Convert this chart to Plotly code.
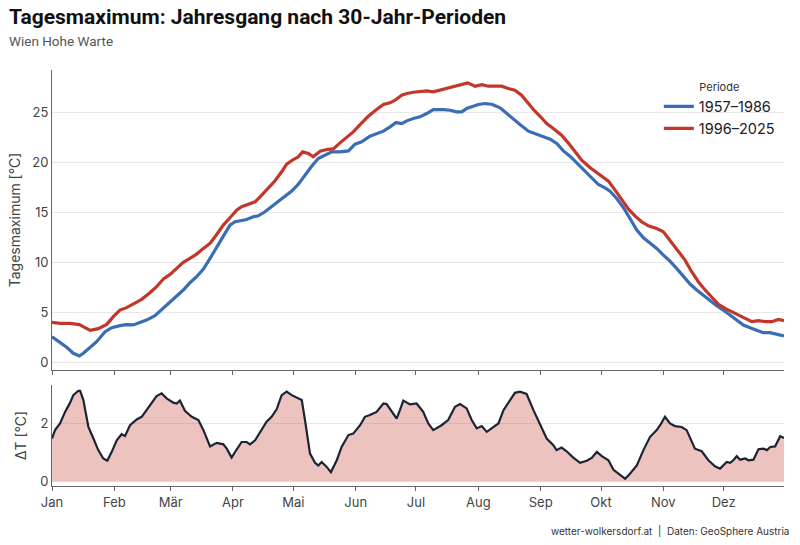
import plotly.graph_objects as go

# ---- data (day of year index, 0 = 1 Jan) ----
blue_day = [0, 4, 7.3, 10.6, 13.6, 15.6, 19, 22.2, 26.4, 29.7, 33.8, 36.8, 40.4, 43.8, 47, 51.2, 55.4, 58.7,
            62, 65.3, 68.6, 71.9, 75.3, 78.6, 81.9, 85.2, 88.5, 91, 94.3, 96.8, 100.1, 102.6, 105.9, 109.2,
            112.5, 115.9, 119.2, 122.5, 125.8, 129.1, 132.4, 135.8, 139.1, 143.2, 147.4, 150.7, 154, 158.1,
            161.4, 164.8, 168.1, 171.1, 173.9, 176.4, 179.7, 183, 186.3, 189.6, 194.6, 198, 201.2, 203.7,
            206.2, 208.7, 212, 215.3, 218.7, 222.8, 226.1, 229.4, 232.7, 236.9, 240.2, 244.3, 247.7, 251,
            254.3, 257.6, 260.9, 264.2, 267.5, 271.7, 275, 277.5, 280.8, 284.1, 287.4, 290.8, 294.1, 297.4,
            300.7, 304, 307.3, 310.6, 314, 317.3, 320.6, 323.9, 327.2, 330.5, 333.8, 337.1, 340.5, 343.8,
            347.1, 350.4, 353.7, 357, 360.4, 364]
blue_val = [2.56, 1.96, 1.50, 0.90, 0.63, 0.90, 1.50, 2.06, 3.06, 3.46, 3.66, 3.76, 3.73, 3.96, 4.22, 4.66, 5.39, 5.95,
            6.62, 7.22, 7.95, 8.55, 9.31, 10.38, 11.44, 12.61, 13.71, 14.04, 14.17, 14.27, 14.54, 14.64, 15.04, 15.54,
            16.13, 16.60, 17.10, 17.80, 18.70, 19.59, 20.36, 20.69, 21.02, 21.02, 21.12, 21.79, 22.02, 22.59,
            22.85, 23.09, 23.52, 23.95, 23.85, 24.12, 24.35, 24.52, 24.85, 25.25, 25.25, 25.18, 25.02, 25.02,
            25.35, 25.52, 25.75, 25.85, 25.78, 25.42, 24.85, 24.25, 23.75, 23.09, 22.85, 22.59, 22.29, 21.86,
            21.12, 20.59, 19.93, 19.19, 18.53, 17.76, 17.43, 17.10, 16.37, 15.47, 14.37, 13.21, 12.44, 11.88,
            11.38, 10.71, 10.11, 9.38, 8.55, 7.82, 7.22, 6.69, 6.22, 5.66, 5.22, 4.72, 4.16, 3.73,
            3.46, 3.23, 2.96, 2.96, 2.83, 2.63]

red_day = [0, 4, 9, 13.6, 16.4, 19, 23, 27.2, 30.5, 33.8, 37.1, 41.3, 44.6, 48.7, 52, 55.4, 58.7, 62, 65.3,
           68.6, 71.9, 75.3, 78.6, 81.9, 85.2, 88.5, 91.8, 94.3, 97.6, 101, 104.3, 107.6, 110.9, 114.2, 116.7,
           120, 122.5, 124.6, 127.5, 129.9, 133.3, 136.6, 139.9, 143.2, 146.5, 149.8, 153.2, 157.3, 161.4,
           164.8, 168.1, 170.6, 173.9, 176.4, 179.7, 183, 186.3, 189.6, 193, 196.3, 200.4, 203.7, 206.7,
           210.4, 213.7, 217, 220.3, 223.6, 226.9, 230.2, 233.5, 236.9, 239.4, 242.7, 246, 249.3, 253.4,
           256.7, 260, 263.4, 267.5, 272.5, 276.7, 280, 283.3, 286.7, 290, 293.2, 296.5, 300.7, 304, 307.3,
           310.6, 314.8, 318.1, 321.4, 324.8, 328.1, 331.4, 334.7, 338, 341.3, 344.7, 348, 351.3, 354.6,
           357.9, 361.3, 364]
red_val = [3.99, 3.89, 3.89, 3.76, 3.46, 3.19, 3.36, 3.79, 4.56, 5.22, 5.46, 5.89, 6.29, 6.95, 7.55, 8.32, 8.78, 9.38, 9.98,
           10.38, 10.81, 11.38, 11.88, 12.77, 13.71, 14.44, 15.20, 15.54, 15.77, 16.03, 16.70, 17.37, 18.13, 19.03, 19.79,
           20.26, 20.53, 21.02, 20.86, 20.53, 21.09, 21.26, 21.32, 21.92, 22.46, 23.02, 23.75, 24.58, 25.25,
           25.75, 25.92, 26.18, 26.68, 26.85, 26.98, 27.05, 27.11, 27.01, 27.18, 27.35, 27.61, 27.74, 27.91,
           27.58, 27.74, 27.58, 27.58, 27.58, 27.35, 27.18, 26.68, 25.85, 25.25, 24.58, 23.85, 23.35, 22.69,
           21.92, 21.02, 20.19, 19.46, 18.70, 18.10, 17.20, 16.20, 15.30, 14.60, 14.04, 13.64, 13.37, 13.04, 12.21,
           11.28, 10.21, 9.05, 8.05, 7.22, 6.49, 5.79, 5.39, 5.06, 4.66, 4.32, 4.06, 4.16, 4.06,
           4.06, 4.29, 4.16]

delta_day = [0, 1.5, 4, 6.5, 9, 10.6, 13.1, 14, 15.6, 18.1, 20.6, 23, 25.5, 27.5, 29.7, 32.2, 34.6, 36.3, 38.8,
             42.1, 44.6, 47.1, 49.6, 52, 54.5, 57, 60.3, 62, 63.6, 66.1, 69.5, 72.8, 75.3, 78.6, 81.9, 85.2,
             86.9, 89.3, 91.8, 94.3, 96.8, 98.5, 101, 103.4, 106.7, 109.2, 111.7, 114.2, 116.7, 119.2, 121.7,
             124.2, 125.8, 128.3, 130.8, 132.4, 134.1, 136.6, 138.7, 141.6, 144, 147.4, 149.8, 153.2, 155.6,
             158.1, 161.4, 164.8, 166.4, 168.9, 171.4, 173, 174.7, 178, 181.3, 184.6, 187.1, 189.6, 193.7,
             197, 200.4, 202.9, 206.2, 208.7, 211.2, 213.7, 216.2, 219.6, 222, 224.5, 227, 230.2, 232.7, 236,
             239.4, 242.7, 246, 249.3, 250.9, 253.4, 255.9, 259.2, 262.6, 265.9, 268.4, 270.9, 273.4, 276.7,
             279.2, 281.7, 285, 287.5, 290.8, 294.1, 297.4, 300.7, 302.4, 304.8, 307.3, 309.8, 313.1, 315.6,
             319.7, 323.1, 326.4, 329.7, 332.2, 335.5, 337.2, 338.8, 340.5, 342.2, 344.7, 346.3, 348.8, 351.3,
             353.8, 355.5, 357.2, 359.6, 362.1, 364]
delta_val = [1.48, 1.77, 2.00, 2.40, 2.72, 2.98, 3.13, 3.13, 2.81, 1.88, 1.48, 1.08, 0.79, 0.71, 1.02, 1.42, 1.63, 1.57, 1.94,
             2.14, 2.23, 2.46, 2.69, 2.95, 3.04, 2.87, 2.72, 2.69, 2.79, 2.44, 2.23, 2.12, 1.77, 1.21, 1.33, 1.28,
             1.13, 0.82, 1.10, 1.36, 1.36, 1.28, 1.42, 1.71, 2.06, 2.23, 2.49, 2.98, 3.10, 2.98, 2.90,
             2.81, 2.12, 0.96, 0.64, 0.55, 0.67, 0.50, 0.32, 0.73, 1.19, 1.60, 1.65, 1.94, 2.23,
             2.29, 2.40, 2.69, 2.67, 2.40, 2.17, 2.46, 2.79, 2.66, 2.69, 2.40, 2.00, 1.77, 1.94,
             2.12, 2.58, 2.67, 2.52, 2.12, 1.83, 1.91, 1.71, 1.88, 2.00, 2.46, 2.72, 3.06, 3.10, 3.02,
             2.46, 1.94, 1.48, 1.25, 1.08, 1.17, 1.04, 0.82, 0.64, 0.71, 0.81, 1.02, 0.87, 0.73,
             0.40, 0.27, 0.09, 0.27, 0.55, 1.08, 1.54, 1.77, 1.94, 2.23, 2.00, 1.91, 1.88, 1.77,
             1.13, 1.04, 0.73, 0.52, 0.44, 0.67, 0.64, 0.73, 0.87, 0.75, 0.79, 0.73, 0.75, 1.11,
             1.13, 1.08, 1.19, 1.21, 1.56, 1.50]

month_ticks = [0, 31, 59, 90, 120, 151, 181, 212, 243, 273, 304, 334]
month_labels = ["Jan", "Feb", "Mär", "Apr", "Mai", "Jun", "Jul", "Aug", "Sep", "Okt", "Nov", "Dez"]

BLUE = "#3a6db5"
RED = "#c3372b"
FONT = "Inter"

fig = go.Figure()
fig.add_trace(go.Scatter(x=blue_day, y=blue_val, mode="lines", name="1957–1986",
                         line=dict(color=BLUE, width=3.2), xaxis="x", yaxis="y"))
fig.add_trace(go.Scatter(x=red_day, y=red_val, mode="lines", name="1996–2025",
                         line=dict(color=RED, width=3.2), xaxis="x", yaxis="y"))
fig.add_trace(go.Scatter(x=delta_day, y=delta_val, mode="lines", showlegend=False,
                         fill="tozeroy", fillcolor="rgba(192,57,43,0.30)",
                         line=dict(color="#1c2434", width=2.2), xaxis="x2", yaxis="y2"))

axis_common = dict(showline=True, linecolor="#666", linewidth=1, zeroline=False,
                   tickfont=dict(family=FONT, size=13, color="#444"))

fig.update_layout(
    width=800, height=545,
    margin=dict(l=52, r=16, t=70, b=59),
    paper_bgcolor="white", plot_bgcolor="white",
    font=dict(family=FONT, color="#333"),
    xaxis=dict(**axis_common, domain=[0, 1], anchor="y", range=[0, 364],
               tickvals=month_ticks, showticklabels=False, ticks="outside", ticklen=4,
               tickcolor="#666", showgrid=False),
    yaxis=dict(**axis_common, domain=[0.2788, 1], anchor="x", range=[-0.77, 29.2],
               tickvals=[0, 5, 10, 15, 20, 25], showgrid=True, gridcolor="#e8e8e8",
               title=dict(text="Tagesmaximum [°C]", font=dict(family=FONT, size=14, color="#444"), standoff=8)),
    xaxis2=dict(**axis_common, domain=[0, 1], anchor="y2", range=[0, 364],
                tickvals=month_ticks, ticktext=month_labels, ticks="outside", ticklen=4,
                tickcolor="#666", showgrid=False),
    yaxis2=dict(**axis_common, domain=[0, 0.2428], anchor="x2", range=[-0.16, 3.33],
                tickvals=[0, 2], showgrid=True, gridcolor="#e8e8e8",
                title=dict(text="ΔT [°C]", font=dict(family=FONT, size=14, color="#444"), standoff=10)),
    legend=dict(x=0.829, y=0.985, xanchor="left", yanchor="top",
                font=dict(family=FONT, size=14.5, color="#222"),
                title=dict(text="Periode", side="top center", font=dict(family=FONT, size=11, color="#333")),
                bgcolor="rgba(0,0,0,0)", tracegroupgap=0),
    annotations=[
        dict(text="<b>Tagesmaximum: Jahresgang nach 30-Jahr-Perioden</b>", xref="paper", yref="paper",
             x=-0.062, y=1.127, xanchor="left", yanchor="middle", showarrow=False,
             font=dict(family="Roboto", size=21, color="#111")),
        dict(text="Wien Hohe Warte", xref="paper", yref="paper",
             x=-0.062, y=1.0697, xanchor="left", yanchor="middle", showarrow=False,
             font=dict(family="Roboto", size=13.5, color="#555")),
        dict(text="wetter-wolkersdorf.at  |  Daten: GeoSphere Austria", xref="paper", yref="paper",
             x=1.01, y=-0.108, xanchor="right", yanchor="middle", showarrow=False,
             font=dict(family=FONT, size=10, color="#333")),
    ],
)

fig.write_html("out.html")
